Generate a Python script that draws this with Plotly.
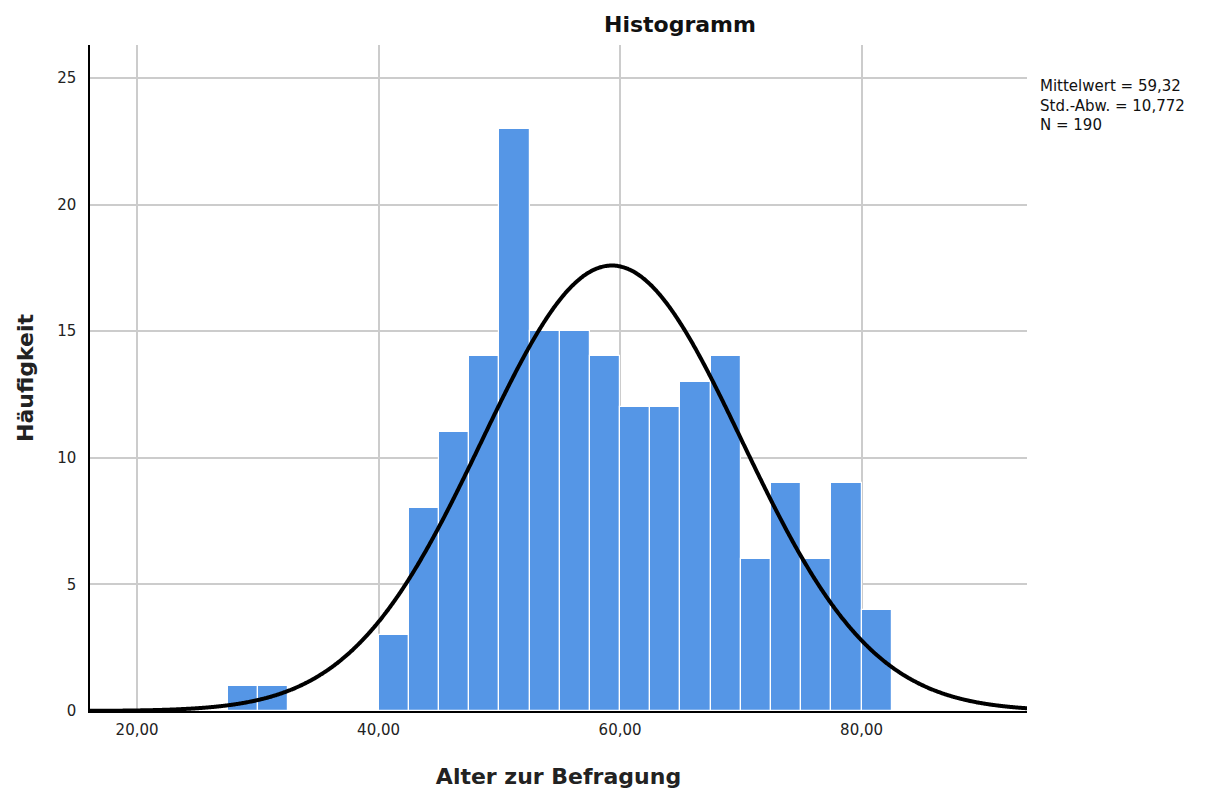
import numpy as np
import plotly.graph_objects as go

# Data
bin_left_edges = [27.5, 30.0, 40.0, 42.5, 45.0, 47.5, 50.0, 52.5, 55.0, 57.5, 60.0,
                  62.5, 65.0, 67.5, 70.0, 72.5, 75.0, 77.5, 80.0]
counts = [1, 1, 3, 8, 11, 14, 23, 15, 15, 14, 12, 12, 13, 14, 6, 9, 6, 9, 4]
bin_width = 2.5
mean_val = 59.32
std_val = 10.772
n_total = 190
x_tickvals = [20, 40, 60, 80]
x_ticktext = ["20,00", "40,00", "60,00", "80,00"]
y_tickvals = [0, 5, 10, 15, 20, 25]

centers = [e + bin_width / 2 for e in bin_left_edges]

xs = np.linspace(16, 94, 800)
ys = n_total * bin_width / (std_val * np.sqrt(2 * np.pi)) * np.exp(-0.5 * ((xs - mean_val) / std_val) ** 2)

fig = go.Figure()
fig.add_trace(go.Bar(x=centers, y=counts, width=bin_width,
                     marker=dict(color="#5596E6", line=dict(color="white", width=1.2)),
                     hoverinfo="x+y"))
fig.add_trace(go.Scatter(x=xs, y=ys, mode="lines",
                         line=dict(color="black", width=4, shape="spline", simplify=False),
                         hoverinfo="skip"))

font_family = "DejaVu Sans, Verdana, sans-serif"
fig.update_layout(
    width=1220, height=791,
    margin=dict(l=90, r=193, t=45, b=80),
    paper_bgcolor="white", plot_bgcolor="white",
    showlegend=False,
    bargap=0,
    font=dict(family=font_family, size=14, color="#222"),
    title=dict(text="<b>Histogramm</b>", x=(680) / 1220, xanchor="center",
               y=1 - 24 / 791, yanchor="middle",
               font=dict(size=22, color="#111", family=font_family)),
    annotations=[dict(text="Mittelwert = 59,32<br>Std.-Abw. = 10,772<br>N = 190",
                      xref="paper", yref="paper", x=1 + 11 / 937, y=1 - 30 / 666,
                      xanchor="left", yanchor="top", align="left", showarrow=False,
                      font=dict(size=15, color="#111", family=font_family))],
)
fig.update_xaxes(range=[16.1, 93.7], tickvals=x_tickvals, ticktext=x_ticktext,
                 showgrid=True, gridcolor="#cccccc", gridwidth=1.5,
                 showline=True, linecolor="black", linewidth=1.5,
                 ticks="outside", ticklen=4, tickcolor="rgba(0,0,0,0)", zeroline=False,
                 automargin=False,
                 title=dict(text="<b>Alter zur Befragung</b>", font=dict(size=22, color="#222"), standoff=31),
                 tickfont=dict(size=15, color="#222"))
fig.update_yaxes(range=[0, 26.3], tickvals=y_tickvals,
                 showgrid=True, gridcolor="#cccccc", gridwidth=1.5,
                 showline=True, linecolor="black", linewidth=1.5,
                 ticks="outside", ticklen=9, tickcolor="rgba(0,0,0,0)", zeroline=False,
                 automargin=False,
                 title=dict(text="<b>Häufigkeit</b>", font=dict(size=22, color="#222"), standoff=17),
                 tickfont=dict(size=15, color="#222"))

fig.write_html("out.html")
